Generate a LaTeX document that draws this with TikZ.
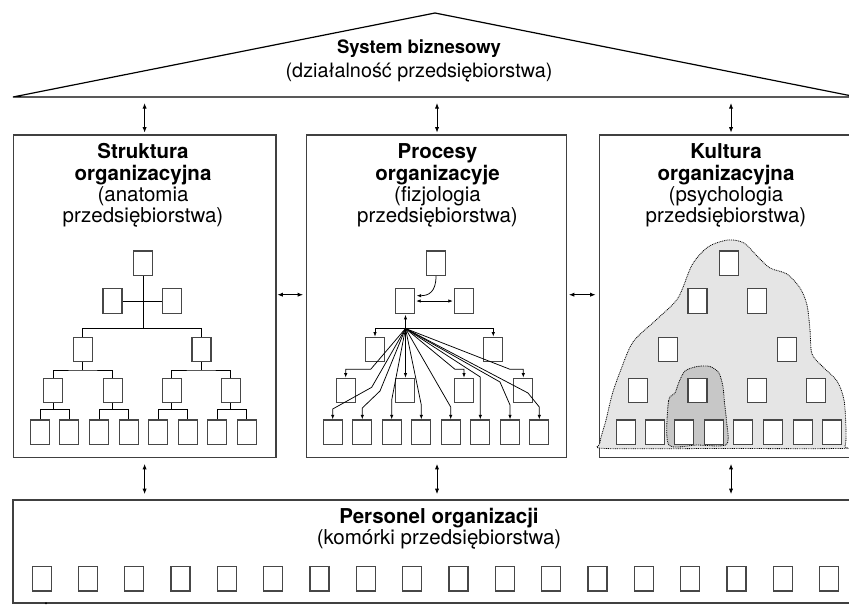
\documentclass[tikz,border=0pt]{standalone}
\usepackage{fontspec}
\setmainfont{TeX Gyre Heros}
\usetikzlibrary{arrows.meta,calc}
\begin{document}
\begin{tikzpicture}[x=1pt,y=-1pt,
  boxframe/.style={draw=black!75, line width=1.6pt, rectangle, inner sep=0pt},
  sq/.style={draw=black!72, line width=1.3pt, fill=white, rectangle, minimum width=19pt, minimum height=24.4pt, inner sep=0pt},
  tl/.style={line width=0.9pt},
  arr/.style={-{Latex[length=4.5pt,width=3.4pt]}, line width=0.75pt},
  dbl/.style={{Latex[length=5.5pt,width=4.2pt]}-{Latex[length=5.5pt,width=4.2pt]}, line width=1pt},
  txt/.style={anchor=base, inner sep=0pt, font=\fontsize{20.5}{24}\selectfont},
  btxt/.style={anchor=base, inner sep=0pt, font=\fontsize{20.5}{24}\selectfont\bfseries},
  blob/.style={draw=black, line width=0.8pt, dash pattern=on 0.9pt off 0.9pt}
]
\useasboundingbox (0,0) rectangle (849,611);

% ---------- roof ----------
\draw[line width=1.2pt, line join=miter] (13,97) -- (435,13) -- (857,97) -- cycle;
\node[btxt, font=\fontsize{18.5}{22}\selectfont\bfseries] (roof1) at (419,53) {System biznesowy};
\node[txt, font=\fontsize{19.8}{23}\selectfont] (roof2) at (419,77) {(działalność przedsiębiorstwa)};
\coordinate (rb) at (0,97);

% ---------- three boxes ----------
\node[boxframe, minimum width=262.5pt, minimum height=322.5pt] (box1) at (144.75,296.25) {};
\node[boxframe, minimum width=260pt, minimum height=322.5pt] (box2) at (436.5,296.25) {};
\node[boxframe, minimum width=258.5pt, minimum height=322.5pt] (box3) at (728.75,296.25) {};

\node[btxt] (t11) at (143,158) {Struktura};
\node[btxt] (t12) at (143,180) {organizacyjna};
\node[txt]  (t13) at (143,201) {(anatomia};
\node[txt]  (t14) at (143,222) {przedsiębiorstwa)};

\node[btxt] (t21) at (437.5,158) {Procesy};
\node[btxt] (t22) at (437.5,180) {organizacyje};
\node[txt]  (t23) at (437.5,201) {(fizjologia};
\node[txt]  (t24) at (437.5,222) {przedsiębiorstwa)};

\node[btxt] (t31) at (726,158) {Kultura};
\node[btxt] (t32) at (726,180) {organizacyjna};
\node[txt]  (t33) at (726,201) {(psychologia};
\node[txt]  (t34) at (726,222) {przedsiębiorstwa)};

% ---------- bottom box ----------
\node[boxframe, minimum width=845pt, minimum height=103pt] (pers) at (435.5,551.5) {};
\node[btxt] (p1) at (439,523) {Personel organizacji};
\node[txt]  (p2) at (439,544) {(komórki przedsiębiorstwa)};
\foreach \i in {0,...,17}{
  \node[sq] (ps\i) at ({41.7+46.31*\i},578.8) {};
}
\fill (46,603.3) circle (1.1pt);

% ---------- connectors between blocks ----------
\coordinate (ax1) at (144.6,0);
\coordinate (ax2) at (437,0);
\coordinate (ax3) at (731,0);
\foreach \a in {ax1,ax2,ax3}{
  \draw[dbl, shorten <=6pt, shorten >=1.5pt] (\a |- rb) -- (\a |- box1.north);
  \draw[dbl, shorten <=5.5pt, shorten >=5pt] (\a |- box1.south) -- (\a |- pers.north);
}
\coordinate (hy) at (0,294.7);
\draw[dbl, shorten <=0.5pt, shorten >=2.5pt] (box1.east |- hy) -- (box2.west |- hy);
\draw[dbl, shorten <=1.5pt, shorten >=3pt] (box2.east |- hy) -- (box3.west |- hy);

% ---------- box 1: hierarchy ----------
\node[sq] (a1) at (143.3,263.2) {};
\node[sq] (a2l) at (112.5,301) {};
\node[sq] (a2r) at (171.7,301) {};
\node[sq] (a3l) at (82.8,349.5) {};
\node[sq] (a3r) at (201.5,349.5) {};
\foreach \x [count=\i] in {53.3,112.7,171.7,230.7}{
  \node[sq] (a4-\i) at (\x,390.5) {};
}
\foreach \x [count=\i] in {40,69.3,99.3,128.7,158.3,187.7,217.3,246.7}{
  \node[sq] (a5-\i) at (\x,432.2) {};
}
\coordinate (bus1) at (143.3,328.3);
\draw[tl] (a1.south) -- (bus1);
\draw[tl] (a2l.east) -- (a2r.west);
\draw[tl] (a3l.north) |- (bus1) -| (a3r.north);
\coordinate (bus2l) at (82.8,370);
\coordinate (bus2r) at (201.5,370);
\draw[tl] (a3l.south) -- (bus2l);
\draw[tl] (a3r.south) -- (bus2r);
\draw[tl] (a4-1.north) |- (bus2l) -| (a4-2.north);
\draw[tl] (a4-3.north) |- (bus2r) -| (a4-4.north);
\foreach \p/\l/\r in {1/1/2,2/3/4,3/5/6,4/7/8}{
  \path (a4-\p.south) ++(0,6) coordinate (c4\p);
  \draw[tl] (a4-\p.south) -- (c4\p);
  \draw[tl] (a5-\l.north) |- (c4\p) -| (a5-\r.north);
}

% ---------- box 2: processes ----------
\node[sq] (b1) at (436,263.2) {};
\node[sq] (b2l) at (405,301) {};
\node[sq] (b2r) at (464,301) {};
\node[sq] (b3l) at (375,349.5) {};
\node[sq] (b3r) at (493.3,349.5) {};
\foreach \x [count=\i] in {345.7,405,464,523.3}{
  \node[sq] (b4-\i) at (\x,390.5) {};
}
\foreach \x [count=\i] in {332.7,362.3,391.7,421.3,450.7,480.3,510,539.3}{
  \node[sq] (b5-\i) at (\x,432.2) {};
}
\coordinate (hub) at (405.5,328.5);
\draw[arr] (b1.south) .. controls +(0,16) and +(12,0) .. ($(b2l.east)+(1.5,-5.3)$);
\draw[{Latex[length=4.5pt,width=3.4pt]}-{Latex[length=4.5pt,width=3.4pt]}, line width=0.75pt, shorten <=1pt, shorten >=1pt] (b2l.east) -- (b2r.west);
\draw[arr, shorten >=1pt] (hub) -- (hub |- b2l.south);
\draw[arr] (hub) -| (b3l.north);
\draw[arr] (hub) -| (b3r.north);
% to level 4
\draw[arr] (hub) -- (370.7,369.3) -| (b4-1.north);
\draw[arr] (hub) -- (hub |- b4-2.north);
\draw[arr] (hub) -- (455,369.3) -| (b4-3.north);
\draw[arr] (hub) -- (510,369.3) -| (b4-4.north);
% to level 5
\draw[arr] (hub) -- (371.7,387.3) -- (332.7,409) -- (b5-1.north);
\draw[arr] (hub) -- (380,391) -- (362.3,408) -- (b5-2.north);
\draw[arr] (hub) -- (391.7,400) -- (b5-3.north);
\draw[arr] (hub) -- (421.3,405) -- (b5-4.north);
\draw[arr] (hub) -- (450.7,407) -- (b5-5.north);
\draw[arr] (hub) -- (480.3,377) -- (b5-6.north);
\draw[arr] (hub) -- (500,382) -- (510,405) -- (b5-7.north);
\draw[arr] (hub) -- (528,393) -- (539.3,407) -- (b5-8.north);

% ---------- box 3: culture ----------
\draw[blob, fill=black!10] plot[smooth cycle, tension=0.5] coordinates {
  (600,443) (606,420) (612,395) (620,372) (633,342) (656,320) (678,298)
  (692,265) (708,247) (728,240) (744,243) (757,256) (770,268) (787,274)
  (800,288) (807,305) (810,330) (812,354) (823,367) (837,381) (844,400)
  (846,430) (845,446) (838,448.5) (720,448.5) (606,448.5)};
\draw[blob, fill=black!22] plot[smooth cycle, tension=0.45] coordinates {
  (668.5,444.5) (668.5,401) (675,393) (679,382) (685,371) (697,366.5)
  (710,366.5) (719,373) (723,387) (724.5,403) (726.5,421) (726.5,444.5)
  (697,445)};
\node[sq] (k1) at (729,263.2) {};
\node[sq] (k2l) at (697.5,301) {};
\node[sq] (k2r) at (756.7,301) {};
\node[sq] (k3l) at (668,349.5) {};
\node[sq] (k3r) at (786.7,349.5) {};
\foreach \x [count=\i] in {638.3,697.5,756.7,816}{
  \node[sq] (k4-\i) at (\x,390.5) {};
}
\foreach \x [count=\i] in {625.7,654.7,684.3,714,743.3,773,802.7,832.3}{
  \node[sq] (k5-\i) at (\x,432.2) {};
}
\end{tikzpicture}
\end{document}
